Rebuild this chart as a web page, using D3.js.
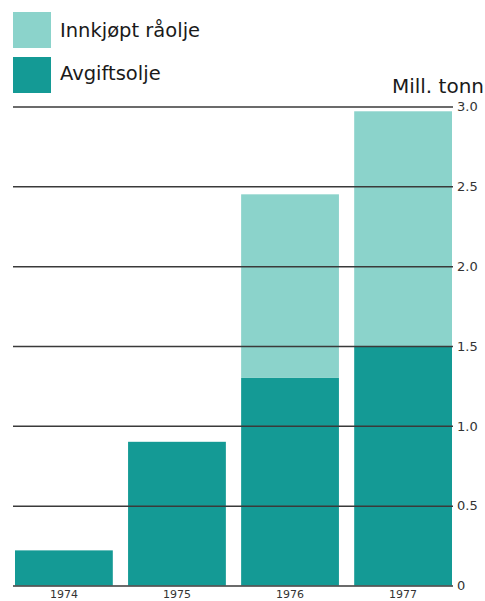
<!DOCTYPE html>
<html><head><meta charset="utf-8">
<script src="https://cdn.jsdelivr.net/npm/d3@7"></script>
<style>html,body{margin:0;padding:0;background:#fff;}svg{display:block;}</style>
</head><body>
<svg id="c" width="485" height="601"></svg>
<script>
const years = ["1974","1975","1976","1977"];
const avgiftsolje = [0.22, 0.90, 1.30, 1.50];
const innkjoptRaolje = [0, 0, 1.15, 1.47];
const tickValues = [0, 0.5, 1.0, 1.5, 2.0, 2.5, 3.0];
const tickLabels = ["0", "0.5", "1.0", "1.5", "2.0", "2.5", "3.0"];
const seriesNames = ["Innkjøpt råolje", "Avgiftsolje"];
const unitLabel = "Mill. tonn";

const colLight = "#8bd3cb", colDark = "#149a95";
const svg = d3.select("#c");
const font = "'DejaVu Sans', Verdana, sans-serif";

const x = d3.scaleBand().domain(years).range([15, 452]).paddingInner(0.135).paddingOuter(0);
const y = d3.scaleLinear().domain([0, 3]).range([585.5, 106.5]);

// bars
const g = svg.append("g");
g.selectAll("rect.dark").data(years).join("rect")
  .attr("x", d => x(d)).attr("width", x.bandwidth())
  .attr("y", (d,i) => y(avgiftsolje[i]))
  .attr("height", (d,i) => y(0) - y(avgiftsolje[i]))
  .attr("fill", colDark);
g.selectAll("rect.light").data(years).join("rect")
  .attr("x", d => x(d)).attr("width", x.bandwidth())
  .attr("y", (d,i) => y(avgiftsolje[i] + innkjoptRaolje[i]))
  .attr("height", (d,i) => y(avgiftsolje[i]) - y(avgiftsolje[i] + innkjoptRaolje[i]))
  .attr("fill", colLight);

// gridlines + right axis labels
const axis = d3.axisRight(y).tickValues(tickValues)
  .tickFormat((d,i) => tickLabels[i]).tickSize(-440).tickPadding(4);
const ag = svg.append("g").attr("transform", "translate(453,0)").call(axis);
ag.select(".domain").remove();
ag.selectAll(".tick line").attr("stroke", "#3a3a3a").attr("stroke-width", 1.5);
ag.selectAll(".tick text").attr("fill", "#333").style("font-family", font).style("font-size", "13px");

// year labels
const xa = d3.axisBottom(x).tickSize(0).tickPadding(4);
const xg = svg.append("g").attr("transform", "translate(0,586)").call(xa);
xg.select(".domain").remove();
xg.selectAll(".tick text").attr("fill", "#333").style("font-family", font).style("font-size", "11px");

// legend
const lg = svg.append("g");
const legendColors = [colLight, colDark];
seriesNames.forEach((n, i) => {
  lg.append("rect").attr("x", 13).attr("y", 12 + i * 45).attr("width", 38).attr("height", 36).attr("fill", legendColors[i]);
  lg.append("text").attr("x", 60).attr("y", 37 + i * 43).text(n)
    .attr("fill", "#1a1a1a").style("font-family", font).style("font-size", "19.5px");
});
svg.append("text").attr("x", 484).attr("y", 93).attr("text-anchor", "end").text(unitLabel)
  .attr("fill", "#1a1a1a").style("font-family", font).style("font-size", "20px");
</script>
</body></html>
